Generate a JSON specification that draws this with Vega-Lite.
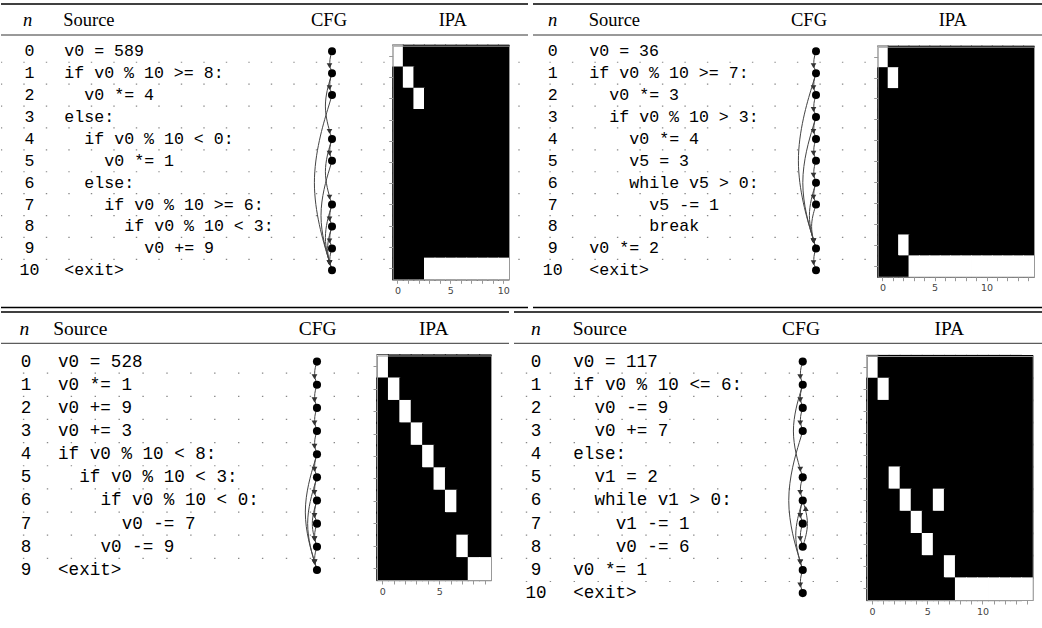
{
"$schema":"https://vega.github.io/schema/vega-lite/v6.json",
"padding":0,
"background":"white",
"spacing":0,
"config":{"view":{"stroke":null}},
"datasets":{
"LA":[{"n":0,"ind":0,"code":"v0 = 589","node":true},{"n":1,"ind":0,"code":"if v0 % 10 >= 8:","node":true},{"n":2,"ind":1,"code":"v0 *= 4","node":true},{"n":3,"ind":0,"code":"else:","node":false},{"n":4,"ind":1,"code":"if v0 % 10 < 0:","node":true},{"n":5,"ind":2,"code":"v0 *= 1","node":true},{"n":6,"ind":1,"code":"else:","node":false},{"n":7,"ind":2,"code":"if v0 % 10 >= 6:","node":true},{"n":8,"ind":3,"code":"if v0 % 10 < 3:","node":true},{"n":9,"ind":4,"code":"v0 += 9","node":true},{"n":10,"ind":0,"code":"<exit>","node":true}],
"LB":[{"n":0,"ind":0,"code":"v0 = 36","node":true},{"n":1,"ind":0,"code":"if v0 % 10 >= 7:","node":true},{"n":2,"ind":1,"code":"v0 *= 3","node":true},{"n":3,"ind":1,"code":"if v0 % 10 > 3:","node":true},{"n":4,"ind":2,"code":"v0 *= 4","node":true},{"n":5,"ind":2,"code":"v5 = 3","node":true},{"n":6,"ind":2,"code":"while v5 > 0:","node":true},{"n":7,"ind":3,"code":"v5 -= 1","node":true},{"n":8,"ind":3,"code":"break","node":false},{"n":9,"ind":0,"code":"v0 *= 2","node":true},{"n":10,"ind":0,"code":"<exit>","node":true}],
"LC":[{"n":0,"ind":0,"code":"v0 = 528","node":true},{"n":1,"ind":0,"code":"v0 *= 1","node":true},{"n":2,"ind":0,"code":"v0 += 9","node":true},{"n":3,"ind":0,"code":"v0 += 3","node":true},{"n":4,"ind":0,"code":"if v0 % 10 < 8:","node":true},{"n":5,"ind":1,"code":"if v0 % 10 < 3:","node":true},{"n":6,"ind":2,"code":"if v0 % 10 < 0:","node":true},{"n":7,"ind":3,"code":"v0 -= 7","node":true},{"n":8,"ind":2,"code":"v0 -= 9","node":true},{"n":9,"ind":0,"code":"<exit>","node":true}],
"LD":[{"n":0,"ind":0,"code":"v0 = 117","node":true},{"n":1,"ind":0,"code":"if v0 % 10 <= 6:","node":true},{"n":2,"ind":1,"code":"v0 -= 9","node":true},{"n":3,"ind":1,"code":"v0 += 7","node":true},{"n":4,"ind":0,"code":"else:","node":false},{"n":5,"ind":1,"code":"v1 = 2","node":true},{"n":6,"ind":1,"code":"while v1 > 0:","node":true},{"n":7,"ind":2,"code":"v1 -= 1","node":true},{"n":8,"ind":2,"code":"v0 -= 6","node":true},{"n":9,"ind":0,"code":"v0 *= 1","node":true},{"n":10,"ind":0,"code":"<exit>","node":true}],
"EA":[{"s":0,"t":1},{"s":1,"t":2},{"s":1,"t":4},{"s":2,"t":10},{"s":4,"t":5},{"s":4,"t":7},{"s":5,"t":10},{"s":7,"t":8},{"s":7,"t":10},{"s":8,"t":9},{"s":8,"t":10},{"s":9,"t":10}],
"EB":[{"s":0,"t":1},{"s":1,"t":2},{"s":1,"t":9},{"s":2,"t":3},{"s":3,"t":4},{"s":3,"t":9},{"s":4,"t":5},{"s":5,"t":6},{"s":6,"t":7},{"s":6,"t":9},{"s":7,"t":9},{"s":9,"t":10}],
"EC":[{"s":0,"t":1},{"s":1,"t":2},{"s":2,"t":3},{"s":3,"t":4},{"s":4,"t":5},{"s":4,"t":9},{"s":5,"t":6},{"s":5,"t":9},{"s":6,"t":7},{"s":6,"t":8},{"s":7,"t":8},{"s":8,"t":9}],
"ED":[{"s":0,"t":1},{"s":1,"t":2},{"s":1,"t":5},{"s":2,"t":3},{"s":3,"t":9},{"s":5,"t":6},{"s":6,"t":7},{"s":6,"t":9},{"s":7,"t":8},{"s":8,"t":6},{"s":9,"t":10}],
"HA":[
{"r":0,"c":0,"v":1},{"r":0,"c":1,"v":0},{"r":0,"c":2,"v":0},{"r":0,"c":3,"v":0},{"r":0,"c":4,"v":0},{"r":0,"c":5,"v":0},{"r":0,"c":6,"v":0},{"r":0,"c":7,"v":0},{"r":0,"c":8,"v":0},{"r":0,"c":9,"v":0},{"r":0,"c":10,"v":0},
{"r":1,"c":0,"v":0},{"r":1,"c":1,"v":1},{"r":1,"c":2,"v":0},{"r":1,"c":3,"v":0},{"r":1,"c":4,"v":0},{"r":1,"c":5,"v":0},{"r":1,"c":6,"v":0},{"r":1,"c":7,"v":0},{"r":1,"c":8,"v":0},{"r":1,"c":9,"v":0},{"r":1,"c":10,"v":0},
{"r":2,"c":0,"v":0},{"r":2,"c":1,"v":0},{"r":2,"c":2,"v":1},{"r":2,"c":3,"v":0},{"r":2,"c":4,"v":0},{"r":2,"c":5,"v":0},{"r":2,"c":6,"v":0},{"r":2,"c":7,"v":0},{"r":2,"c":8,"v":0},{"r":2,"c":9,"v":0},{"r":2,"c":10,"v":0},
{"r":3,"c":0,"v":0},{"r":3,"c":1,"v":0},{"r":3,"c":2,"v":0},{"r":3,"c":3,"v":0},{"r":3,"c":4,"v":0},{"r":3,"c":5,"v":0},{"r":3,"c":6,"v":0},{"r":3,"c":7,"v":0},{"r":3,"c":8,"v":0},{"r":3,"c":9,"v":0},{"r":3,"c":10,"v":0},
{"r":4,"c":0,"v":0},{"r":4,"c":1,"v":0},{"r":4,"c":2,"v":0},{"r":4,"c":3,"v":0},{"r":4,"c":4,"v":0},{"r":4,"c":5,"v":0},{"r":4,"c":6,"v":0},{"r":4,"c":7,"v":0},{"r":4,"c":8,"v":0},{"r":4,"c":9,"v":0},{"r":4,"c":10,"v":0},
{"r":5,"c":0,"v":0},{"r":5,"c":1,"v":0},{"r":5,"c":2,"v":0},{"r":5,"c":3,"v":0},{"r":5,"c":4,"v":0},{"r":5,"c":5,"v":0},{"r":5,"c":6,"v":0},{"r":5,"c":7,"v":0},{"r":5,"c":8,"v":0},{"r":5,"c":9,"v":0},{"r":5,"c":10,"v":0},
{"r":6,"c":0,"v":0},{"r":6,"c":1,"v":0},{"r":6,"c":2,"v":0},{"r":6,"c":3,"v":0},{"r":6,"c":4,"v":0},{"r":6,"c":5,"v":0},{"r":6,"c":6,"v":0},{"r":6,"c":7,"v":0},{"r":6,"c":8,"v":0},{"r":6,"c":9,"v":0},{"r":6,"c":10,"v":0},
{"r":7,"c":0,"v":0},{"r":7,"c":1,"v":0},{"r":7,"c":2,"v":0},{"r":7,"c":3,"v":0},{"r":7,"c":4,"v":0},{"r":7,"c":5,"v":0},{"r":7,"c":6,"v":0},{"r":7,"c":7,"v":0},{"r":7,"c":8,"v":0},{"r":7,"c":9,"v":0},{"r":7,"c":10,"v":0},
{"r":8,"c":0,"v":0},{"r":8,"c":1,"v":0},{"r":8,"c":2,"v":0},{"r":8,"c":3,"v":0},{"r":8,"c":4,"v":0},{"r":8,"c":5,"v":0},{"r":8,"c":6,"v":0},{"r":8,"c":7,"v":0},{"r":8,"c":8,"v":0},{"r":8,"c":9,"v":0},{"r":8,"c":10,"v":0},
{"r":9,"c":0,"v":0},{"r":9,"c":1,"v":0},{"r":9,"c":2,"v":0},{"r":9,"c":3,"v":0},{"r":9,"c":4,"v":0},{"r":9,"c":5,"v":0},{"r":9,"c":6,"v":0},{"r":9,"c":7,"v":0},{"r":9,"c":8,"v":0},{"r":9,"c":9,"v":0},{"r":9,"c":10,"v":0},
{"r":10,"c":0,"v":0},{"r":10,"c":1,"v":0},{"r":10,"c":2,"v":0},{"r":10,"c":3,"v":1},{"r":10,"c":4,"v":1},{"r":10,"c":5,"v":1},{"r":10,"c":6,"v":1},{"r":10,"c":7,"v":1},{"r":10,"c":8,"v":1},{"r":10,"c":9,"v":1},{"r":10,"c":10,"v":1}],
"HB":[
{"r":0,"c":0,"v":1},{"r":0,"c":1,"v":0},{"r":0,"c":2,"v":0},{"r":0,"c":3,"v":0},{"r":0,"c":4,"v":0},{"r":0,"c":5,"v":0},{"r":0,"c":6,"v":0},{"r":0,"c":7,"v":0},{"r":0,"c":8,"v":0},{"r":0,"c":9,"v":0},{"r":0,"c":10,"v":0},{"r":0,"c":11,"v":0},{"r":0,"c":12,"v":0},{"r":0,"c":13,"v":0},{"r":0,"c":14,"v":0},
{"r":1,"c":0,"v":0},{"r":1,"c":1,"v":1},{"r":1,"c":2,"v":0},{"r":1,"c":3,"v":0},{"r":1,"c":4,"v":0},{"r":1,"c":5,"v":0},{"r":1,"c":6,"v":0},{"r":1,"c":7,"v":0},{"r":1,"c":8,"v":0},{"r":1,"c":9,"v":0},{"r":1,"c":10,"v":0},{"r":1,"c":11,"v":0},{"r":1,"c":12,"v":0},{"r":1,"c":13,"v":0},{"r":1,"c":14,"v":0},
{"r":2,"c":0,"v":0},{"r":2,"c":1,"v":0},{"r":2,"c":2,"v":0},{"r":2,"c":3,"v":0},{"r":2,"c":4,"v":0},{"r":2,"c":5,"v":0},{"r":2,"c":6,"v":0},{"r":2,"c":7,"v":0},{"r":2,"c":8,"v":0},{"r":2,"c":9,"v":0},{"r":2,"c":10,"v":0},{"r":2,"c":11,"v":0},{"r":2,"c":12,"v":0},{"r":2,"c":13,"v":0},{"r":2,"c":14,"v":0},
{"r":3,"c":0,"v":0},{"r":3,"c":1,"v":0},{"r":3,"c":2,"v":0},{"r":3,"c":3,"v":0},{"r":3,"c":4,"v":0},{"r":3,"c":5,"v":0},{"r":3,"c":6,"v":0},{"r":3,"c":7,"v":0},{"r":3,"c":8,"v":0},{"r":3,"c":9,"v":0},{"r":3,"c":10,"v":0},{"r":3,"c":11,"v":0},{"r":3,"c":12,"v":0},{"r":3,"c":13,"v":0},{"r":3,"c":14,"v":0},
{"r":4,"c":0,"v":0},{"r":4,"c":1,"v":0},{"r":4,"c":2,"v":0},{"r":4,"c":3,"v":0},{"r":4,"c":4,"v":0},{"r":4,"c":5,"v":0},{"r":4,"c":6,"v":0},{"r":4,"c":7,"v":0},{"r":4,"c":8,"v":0},{"r":4,"c":9,"v":0},{"r":4,"c":10,"v":0},{"r":4,"c":11,"v":0},{"r":4,"c":12,"v":0},{"r":4,"c":13,"v":0},{"r":4,"c":14,"v":0},
{"r":5,"c":0,"v":0},{"r":5,"c":1,"v":0},{"r":5,"c":2,"v":0},{"r":5,"c":3,"v":0},{"r":5,"c":4,"v":0},{"r":5,"c":5,"v":0},{"r":5,"c":6,"v":0},{"r":5,"c":7,"v":0},{"r":5,"c":8,"v":0},{"r":5,"c":9,"v":0},{"r":5,"c":10,"v":0},{"r":5,"c":11,"v":0},{"r":5,"c":12,"v":0},{"r":5,"c":13,"v":0},{"r":5,"c":14,"v":0},
{"r":6,"c":0,"v":0},{"r":6,"c":1,"v":0},{"r":6,"c":2,"v":0},{"r":6,"c":3,"v":0},{"r":6,"c":4,"v":0},{"r":6,"c":5,"v":0},{"r":6,"c":6,"v":0},{"r":6,"c":7,"v":0},{"r":6,"c":8,"v":0},{"r":6,"c":9,"v":0},{"r":6,"c":10,"v":0},{"r":6,"c":11,"v":0},{"r":6,"c":12,"v":0},{"r":6,"c":13,"v":0},{"r":6,"c":14,"v":0},
{"r":7,"c":0,"v":0},{"r":7,"c":1,"v":0},{"r":7,"c":2,"v":0},{"r":7,"c":3,"v":0},{"r":7,"c":4,"v":0},{"r":7,"c":5,"v":0},{"r":7,"c":6,"v":0},{"r":7,"c":7,"v":0},{"r":7,"c":8,"v":0},{"r":7,"c":9,"v":0},{"r":7,"c":10,"v":0},{"r":7,"c":11,"v":0},{"r":7,"c":12,"v":0},{"r":7,"c":13,"v":0},{"r":7,"c":14,"v":0},
{"r":8,"c":0,"v":0},{"r":8,"c":1,"v":0},{"r":8,"c":2,"v":0},{"r":8,"c":3,"v":0},{"r":8,"c":4,"v":0},{"r":8,"c":5,"v":0},{"r":8,"c":6,"v":0},{"r":8,"c":7,"v":0},{"r":8,"c":8,"v":0},{"r":8,"c":9,"v":0},{"r":8,"c":10,"v":0},{"r":8,"c":11,"v":0},{"r":8,"c":12,"v":0},{"r":8,"c":13,"v":0},{"r":8,"c":14,"v":0},
{"r":9,"c":0,"v":0},{"r":9,"c":1,"v":0},{"r":9,"c":2,"v":1},{"r":9,"c":3,"v":0},{"r":9,"c":4,"v":0},{"r":9,"c":5,"v":0},{"r":9,"c":6,"v":0},{"r":9,"c":7,"v":0},{"r":9,"c":8,"v":0},{"r":9,"c":9,"v":0},{"r":9,"c":10,"v":0},{"r":9,"c":11,"v":0},{"r":9,"c":12,"v":0},{"r":9,"c":13,"v":0},{"r":9,"c":14,"v":0},
{"r":10,"c":0,"v":0},{"r":10,"c":1,"v":0},{"r":10,"c":2,"v":0},{"r":10,"c":3,"v":1},{"r":10,"c":4,"v":1},{"r":10,"c":5,"v":1},{"r":10,"c":6,"v":1},{"r":10,"c":7,"v":1},{"r":10,"c":8,"v":1},{"r":10,"c":9,"v":1},{"r":10,"c":10,"v":1},{"r":10,"c":11,"v":1},{"r":10,"c":12,"v":1},{"r":10,"c":13,"v":1},{"r":10,"c":14,"v":1}],
"HC":[
{"r":0,"c":0,"v":1},{"r":0,"c":1,"v":0},{"r":0,"c":2,"v":0},{"r":0,"c":3,"v":0},{"r":0,"c":4,"v":0},{"r":0,"c":5,"v":0},{"r":0,"c":6,"v":0},{"r":0,"c":7,"v":0},{"r":0,"c":8,"v":0},{"r":0,"c":9,"v":0},
{"r":1,"c":0,"v":0},{"r":1,"c":1,"v":1},{"r":1,"c":2,"v":0},{"r":1,"c":3,"v":0},{"r":1,"c":4,"v":0},{"r":1,"c":5,"v":0},{"r":1,"c":6,"v":0},{"r":1,"c":7,"v":0},{"r":1,"c":8,"v":0},{"r":1,"c":9,"v":0},
{"r":2,"c":0,"v":0},{"r":2,"c":1,"v":0},{"r":2,"c":2,"v":1},{"r":2,"c":3,"v":0},{"r":2,"c":4,"v":0},{"r":2,"c":5,"v":0},{"r":2,"c":6,"v":0},{"r":2,"c":7,"v":0},{"r":2,"c":8,"v":0},{"r":2,"c":9,"v":0},
{"r":3,"c":0,"v":0},{"r":3,"c":1,"v":0},{"r":3,"c":2,"v":0},{"r":3,"c":3,"v":1},{"r":3,"c":4,"v":0},{"r":3,"c":5,"v":0},{"r":3,"c":6,"v":0},{"r":3,"c":7,"v":0},{"r":3,"c":8,"v":0},{"r":3,"c":9,"v":0},
{"r":4,"c":0,"v":0},{"r":4,"c":1,"v":0},{"r":4,"c":2,"v":0},{"r":4,"c":3,"v":0},{"r":4,"c":4,"v":1},{"r":4,"c":5,"v":0},{"r":4,"c":6,"v":0},{"r":4,"c":7,"v":0},{"r":4,"c":8,"v":0},{"r":4,"c":9,"v":0},
{"r":5,"c":0,"v":0},{"r":5,"c":1,"v":0},{"r":5,"c":2,"v":0},{"r":5,"c":3,"v":0},{"r":5,"c":4,"v":0},{"r":5,"c":5,"v":1},{"r":5,"c":6,"v":0},{"r":5,"c":7,"v":0},{"r":5,"c":8,"v":0},{"r":5,"c":9,"v":0},
{"r":6,"c":0,"v":0},{"r":6,"c":1,"v":0},{"r":6,"c":2,"v":0},{"r":6,"c":3,"v":0},{"r":6,"c":4,"v":0},{"r":6,"c":5,"v":0},{"r":6,"c":6,"v":1},{"r":6,"c":7,"v":0},{"r":6,"c":8,"v":0},{"r":6,"c":9,"v":0},
{"r":7,"c":0,"v":0},{"r":7,"c":1,"v":0},{"r":7,"c":2,"v":0},{"r":7,"c":3,"v":0},{"r":7,"c":4,"v":0},{"r":7,"c":5,"v":0},{"r":7,"c":6,"v":0},{"r":7,"c":7,"v":0},{"r":7,"c":8,"v":0},{"r":7,"c":9,"v":0},
{"r":8,"c":0,"v":0},{"r":8,"c":1,"v":0},{"r":8,"c":2,"v":0},{"r":8,"c":3,"v":0},{"r":8,"c":4,"v":0},{"r":8,"c":5,"v":0},{"r":8,"c":6,"v":0},{"r":8,"c":7,"v":1},{"r":8,"c":8,"v":0},{"r":8,"c":9,"v":0},
{"r":9,"c":0,"v":0},{"r":9,"c":1,"v":0},{"r":9,"c":2,"v":0},{"r":9,"c":3,"v":0},{"r":9,"c":4,"v":0},{"r":9,"c":5,"v":0},{"r":9,"c":6,"v":0},{"r":9,"c":7,"v":0},{"r":9,"c":8,"v":1},{"r":9,"c":9,"v":1}],
"HD":[
{"r":0,"c":0,"v":1},{"r":0,"c":1,"v":0},{"r":0,"c":2,"v":0},{"r":0,"c":3,"v":0},{"r":0,"c":4,"v":0},{"r":0,"c":5,"v":0},{"r":0,"c":6,"v":0},{"r":0,"c":7,"v":0},{"r":0,"c":8,"v":0},{"r":0,"c":9,"v":0},{"r":0,"c":10,"v":0},{"r":0,"c":11,"v":0},{"r":0,"c":12,"v":0},{"r":0,"c":13,"v":0},{"r":0,"c":14,"v":0},
{"r":1,"c":0,"v":0},{"r":1,"c":1,"v":1},{"r":1,"c":2,"v":0},{"r":1,"c":3,"v":0},{"r":1,"c":4,"v":0},{"r":1,"c":5,"v":0},{"r":1,"c":6,"v":0},{"r":1,"c":7,"v":0},{"r":1,"c":8,"v":0},{"r":1,"c":9,"v":0},{"r":1,"c":10,"v":0},{"r":1,"c":11,"v":0},{"r":1,"c":12,"v":0},{"r":1,"c":13,"v":0},{"r":1,"c":14,"v":0},
{"r":2,"c":0,"v":0},{"r":2,"c":1,"v":0},{"r":2,"c":2,"v":0},{"r":2,"c":3,"v":0},{"r":2,"c":4,"v":0},{"r":2,"c":5,"v":0},{"r":2,"c":6,"v":0},{"r":2,"c":7,"v":0},{"r":2,"c":8,"v":0},{"r":2,"c":9,"v":0},{"r":2,"c":10,"v":0},{"r":2,"c":11,"v":0},{"r":2,"c":12,"v":0},{"r":2,"c":13,"v":0},{"r":2,"c":14,"v":0},
{"r":3,"c":0,"v":0},{"r":3,"c":1,"v":0},{"r":3,"c":2,"v":0},{"r":3,"c":3,"v":0},{"r":3,"c":4,"v":0},{"r":3,"c":5,"v":0},{"r":3,"c":6,"v":0},{"r":3,"c":7,"v":0},{"r":3,"c":8,"v":0},{"r":3,"c":9,"v":0},{"r":3,"c":10,"v":0},{"r":3,"c":11,"v":0},{"r":3,"c":12,"v":0},{"r":3,"c":13,"v":0},{"r":3,"c":14,"v":0},
{"r":4,"c":0,"v":0},{"r":4,"c":1,"v":0},{"r":4,"c":2,"v":0},{"r":4,"c":3,"v":0},{"r":4,"c":4,"v":0},{"r":4,"c":5,"v":0},{"r":4,"c":6,"v":0},{"r":4,"c":7,"v":0},{"r":4,"c":8,"v":0},{"r":4,"c":9,"v":0},{"r":4,"c":10,"v":0},{"r":4,"c":11,"v":0},{"r":4,"c":12,"v":0},{"r":4,"c":13,"v":0},{"r":4,"c":14,"v":0},
{"r":5,"c":0,"v":0},{"r":5,"c":1,"v":0},{"r":5,"c":2,"v":1},{"r":5,"c":3,"v":0},{"r":5,"c":4,"v":0},{"r":5,"c":5,"v":0},{"r":5,"c":6,"v":0},{"r":5,"c":7,"v":0},{"r":5,"c":8,"v":0},{"r":5,"c":9,"v":0},{"r":5,"c":10,"v":0},{"r":5,"c":11,"v":0},{"r":5,"c":12,"v":0},{"r":5,"c":13,"v":0},{"r":5,"c":14,"v":0},
{"r":6,"c":0,"v":0},{"r":6,"c":1,"v":0},{"r":6,"c":2,"v":0},{"r":6,"c":3,"v":1},{"r":6,"c":4,"v":0},{"r":6,"c":5,"v":0},{"r":6,"c":6,"v":1},{"r":6,"c":7,"v":0},{"r":6,"c":8,"v":0},{"r":6,"c":9,"v":0},{"r":6,"c":10,"v":0},{"r":6,"c":11,"v":0},{"r":6,"c":12,"v":0},{"r":6,"c":13,"v":0},{"r":6,"c":14,"v":0},
{"r":7,"c":0,"v":0},{"r":7,"c":1,"v":0},{"r":7,"c":2,"v":0},{"r":7,"c":3,"v":0},{"r":7,"c":4,"v":1},{"r":7,"c":5,"v":0},{"r":7,"c":6,"v":0},{"r":7,"c":7,"v":0},{"r":7,"c":8,"v":0},{"r":7,"c":9,"v":0},{"r":7,"c":10,"v":0},{"r":7,"c":11,"v":0},{"r":7,"c":12,"v":0},{"r":7,"c":13,"v":0},{"r":7,"c":14,"v":0},
{"r":8,"c":0,"v":0},{"r":8,"c":1,"v":0},{"r":8,"c":2,"v":0},{"r":8,"c":3,"v":0},{"r":8,"c":4,"v":0},{"r":8,"c":5,"v":1},{"r":8,"c":6,"v":0},{"r":8,"c":7,"v":0},{"r":8,"c":8,"v":0},{"r":8,"c":9,"v":0},{"r":8,"c":10,"v":0},{"r":8,"c":11,"v":0},{"r":8,"c":12,"v":0},{"r":8,"c":13,"v":0},{"r":8,"c":14,"v":0},
{"r":9,"c":0,"v":0},{"r":9,"c":1,"v":0},{"r":9,"c":2,"v":0},{"r":9,"c":3,"v":0},{"r":9,"c":4,"v":0},{"r":9,"c":5,"v":0},{"r":9,"c":6,"v":0},{"r":9,"c":7,"v":1},{"r":9,"c":8,"v":0},{"r":9,"c":9,"v":0},{"r":9,"c":10,"v":0},{"r":9,"c":11,"v":0},{"r":9,"c":12,"v":0},{"r":9,"c":13,"v":0},{"r":9,"c":14,"v":0},
{"r":10,"c":0,"v":0},{"r":10,"c":1,"v":0},{"r":10,"c":2,"v":0},{"r":10,"c":3,"v":0},{"r":10,"c":4,"v":0},{"r":10,"c":5,"v":0},{"r":10,"c":6,"v":0},{"r":10,"c":7,"v":0},{"r":10,"c":8,"v":1},{"r":10,"c":9,"v":1},{"r":10,"c":10,"v":1},{"r":10,"c":11,"v":1},{"r":10,"c":12,"v":1},{"r":10,"c":13,"v":1},{"r":10,"c":14,"v":1}]
},
"vconcat":[
{"hconcat":[
{"width":527,"height":310,
 "resolve":{"scale":{"x":"independent","y":"independent","xOffset":"independent"}},
 "layer":[
  {"layer":[
   {"data":{"name":"LA"},"transform":[{"filter":"datum.n < 10"}],"mark":{"type":"rule","color":"#888","strokeWidth":1.2,"strokeDash":[1.4,21.1],"strokeDashOffset":14.2,"yOffset":10.95},"encoding":{"y":{"field":"n","type":"quantitative","scale":{"domain":[-2.3425,11.8128],"reverse":true,"nice":false,"zero":false},"axis":null}}},
   {"data":{"values":[{}]},"mark":{"type":"rule","color":"#000","strokeWidth":1.3},"encoding":{"y":{"datum":-2.16,"type":"quantitative","scale":{"domain":[-2.3425,11.8128],"reverse":true,"nice":false,"zero":false},"axis":null}}},
   {"data":{"values":[{}]},"mark":{"type":"rule","color":"#000","strokeWidth":0.8},"encoding":{"y":{"datum":-0.744,"type":"quantitative","scale":{"domain":[-2.3425,11.8128],"reverse":true,"nice":false,"zero":false},"axis":null}}},
   {"data":{"values":[{}]},"mark":{"type":"rule","color":"#000","strokeWidth":1.3},"encoding":{"y":{"datum":11.699,"type":"quantitative","scale":{"domain":[-2.3425,11.8128],"reverse":true,"nice":false,"zero":false},"axis":null}}},
   {"data":{"values":[{"h":"n"}]},"mark":{"type":"text","font":"Liberation Serif","fontStyle":"italic","fontSize":18.5,"align":"center","baseline":"alphabetic"},"encoding":{"text":{"field":"h"},"x":{"datum":2.67,"type":"quantitative","scale":{"domain":[0,52.7],"nice":false,"zero":false},"axis":null},"y":{"datum":-1.17,"type":"quantitative","scale":{"domain":[-2.3425,11.8128],"reverse":true,"nice":false,"zero":false},"axis":null}}},
   {"data":{"values":[{"h":"Source"}]},"mark":{"type":"text","font":"Liberation Serif","fontSize":18.5,"align":"left","baseline":"alphabetic"},"encoding":{"text":{"field":"h"},"x":{"datum":6.22,"type":"quantitative","scale":{"domain":[0,52.7],"nice":false,"zero":false},"axis":null},"y":{"datum":-1.17,"type":"quantitative","scale":{"domain":[-2.3425,11.8128],"reverse":true,"nice":false,"zero":false},"axis":null}}},
   {"data":{"values":[{"h":"CFG"}]},"mark":{"type":"text","font":"Liberation Serif","fontSize":18.5,"align":"center","baseline":"alphabetic"},"encoding":{"text":{"field":"h"},"x":{"datum":32.8,"type":"quantitative","scale":{"domain":[0,52.7],"nice":false,"zero":false},"axis":null},"y":{"datum":-1.17,"type":"quantitative","scale":{"domain":[-2.3425,11.8128],"reverse":true,"nice":false,"zero":false},"axis":null}}},
   {"data":{"values":[{"h":"IPA"}]},"mark":{"type":"text","font":"Liberation Serif","fontSize":18.5,"align":"center","baseline":"alphabetic"},"encoding":{"text":{"field":"h"},"x":{"datum":45.17,"type":"quantitative","scale":{"domain":[0,52.7],"nice":false,"zero":false},"axis":null},"y":{"datum":-1.17,"type":"quantitative","scale":{"domain":[-2.3425,11.8128],"reverse":true,"nice":false,"zero":false},"axis":null}}},
   {"data":{"name":"LA"},"mark":{"type":"text","font":"Liberation Mono","fontSize":16.6,"align":"center","baseline":"middle"},"encoding":{"text":{"field":"n","type":"nominal"},"x":{"datum":2.85,"type":"quantitative","scale":{"domain":[0,52.7],"nice":false,"zero":false},"axis":null},"y":{"field":"n","type":"quantitative","scale":{"domain":[-2.3425,11.8128],"reverse":true,"nice":false,"zero":false},"axis":null}}},
   {"data":{"name":"LA"},"mark":{"type":"text","font":"Liberation Mono","fontSize":16.6,"align":"left","baseline":"middle"},"encoding":{"text":{"field":"code","type":"nominal"},"x":{"datum":6.33,"type":"quantitative","scale":{"domain":[0,52.7],"nice":false,"zero":false},"axis":null},"xOffset":{"field":"ind","type":"quantitative","scale":{"domain":[0,1],"range":[0,20],"zero":false,"nice":false}},"y":{"field":"n","type":"quantitative","scale":{"domain":[-2.3425,11.8128],"reverse":true,"nice":false,"zero":false},"axis":null}}},
   {"data":{"name":"EA"},"transform":[{"calculate":"(datum.s + datum.t) / 2","as":"m"},{"fold":["s","m","t"],"as":["k","yy"]},{"calculate":"datum.k === 'm' ? 33.1 - 0.33 * (datum.t - datum.s) : 33.1","as":"xx"}],"mark":{"type":"line","interpolate":"basis","color":"#444","strokeWidth":1},"encoding":{"x":{"field":"xx","type":"quantitative","scale":{"domain":[0,52.7],"nice":false,"zero":false},"axis":null},"y":{"field":"yy","type":"quantitative","scale":{"domain":[-2.3425,11.8128],"reverse":true,"nice":false,"zero":false},"axis":null},"detail":[{"field":"s","type":"nominal"},{"field":"t","type":"nominal"}],"order":{"field":"yy","type":"quantitative"}}},
   {"data":{"name":"EA"},"transform":[{"filter":"datum.t > datum.s"}],"mark":{"type":"point","shape":"triangle-down","filled":true,"color":"#333","opacity":1,"size":32,"xOffset":-2.5,"yOffset":-7.5},"encoding":{"x":{"datum":33.1,"type":"quantitative","scale":{"domain":[0,52.7],"nice":false,"zero":false},"axis":null},"y":{"field":"t","type":"quantitative","scale":{"domain":[-2.3425,11.8128],"reverse":true,"nice":false,"zero":false},"axis":null}}},
   {"data":{"name":"LA"},"transform":[{"filter":"datum.node"}],"mark":{"type":"point","shape":"circle","filled":true,"color":"#000","opacity":1,"size":64},"encoding":{"x":{"datum":33.1,"type":"quantitative","scale":{"domain":[0,52.7],"nice":false,"zero":false},"axis":null},"y":{"field":"n","type":"quantitative","scale":{"domain":[-2.3425,11.8128],"reverse":true,"nice":false,"zero":false},"axis":null}}}
  ]},
  {"resolve":{"axis":{"x":"independent","y":"independent"}},
   "layer":[
   {"data":{"name":"HA"},"mark":{"type":"rect","color":"#000","width":{"band":1.1},"height":{"band":1.1}},"encoding":{
     "x":{"field":"c","type":"ordinal","scale":{"type":"band","range":[391.7,508],"paddingInner":0,"paddingOuter":0},"axis":{"orient":"top","offset":-45.7,"title":null,"grid":false,"zindex":1,"domainColor":"#999","ticks":false,"labels":false}},
     "y":{"field":"r","type":"ordinal","scale":{"type":"band","range":[45.7,279.3],"paddingInner":0,"paddingOuter":0},"axis":{"orient":"right","offset":-19,"title":null,"grid":false,"zindex":1,"domainColor":"#999","ticks":false,"labels":false}}}},
   {"data":{"name":"HA"},"mark":{"type":"rect","width":{"band":1.08},"height":{"band":1.04}},"encoding":{
     "x":{"field":"c","type":"ordinal","scale":{"type":"band","range":[391.7,508],"paddingInner":0,"paddingOuter":0},"axis":{"orient":"bottom","offset":-30.7,"title":null,"grid":false,"zindex":1,"domainColor":"#999","tickColor":"#999","tickSize":4,"labelExpr":"datum.value % 5 === 0 ? datum.label : ''","labelFont":"DejaVu Sans","labelFontSize":9.5,"labelColor":"#444","labelPadding":2,"labelAngle":0,"labelOverlap":false}},
     "y":{"field":"r","type":"ordinal","scale":{"type":"band","range":[45.7,279.3],"paddingInner":0,"paddingOuter":0},"axis":{"orient":"left","offset":-391.7,"title":null,"grid":false,"zindex":1,"domainColor":"#999","tickColor":"#999","tickSize":4,"labels":false}},
     "color":{"field":"v","type":"nominal","scale":{"domain":[0,1],"range":["#000000","#ffffff"]},"legend":null}}}
  ]}
 ]},
{"width":510,"height":310,
 "resolve":{"scale":{"x":"independent","y":"independent","xOffset":"independent"}},
 "layer":[
  {"layer":[
   {"data":{"name":"LB"},"transform":[{"filter":"datum.n < 10"}],"mark":{"type":"rule","color":"#888","strokeWidth":1.2,"strokeDash":[1.4,21.1],"strokeDashOffset":2.8,"yOffset":10.95},"encoding":{"y":{"field":"n","type":"quantitative","scale":{"domain":[-2.3425,11.8128],"reverse":true,"nice":false,"zero":false},"axis":null}}},
   {"data":{"values":[{}]},"mark":{"type":"rule","color":"#000","strokeWidth":1.3},"encoding":{"y":{"datum":-2.16,"type":"quantitative","scale":{"domain":[-2.3425,11.8128],"reverse":true,"nice":false,"zero":false},"axis":null}}},
   {"data":{"values":[{}]},"mark":{"type":"rule","color":"#000","strokeWidth":0.8},"encoding":{"y":{"datum":-0.744,"type":"quantitative","scale":{"domain":[-2.3425,11.8128],"reverse":true,"nice":false,"zero":false},"axis":null}}},
   {"data":{"values":[{}]},"mark":{"type":"rule","color":"#000","strokeWidth":1.3},"encoding":{"y":{"datum":11.699,"type":"quantitative","scale":{"domain":[-2.3425,11.8128],"reverse":true,"nice":false,"zero":false},"axis":null}}},
   {"data":{"values":[{"h":"n"}]},"mark":{"type":"text","font":"Liberation Serif","fontStyle":"italic","fontSize":18.5,"align":"center","baseline":"alphabetic"},"encoding":{"text":{"field":"h"},"x":{"datum":1.97,"type":"quantitative","scale":{"domain":[0,51],"nice":false,"zero":false},"axis":null},"y":{"datum":-1.17,"type":"quantitative","scale":{"domain":[-2.3425,11.8128],"reverse":true,"nice":false,"zero":false},"axis":null}}},
   {"data":{"values":[{"h":"Source"}]},"mark":{"type":"text","font":"Liberation Serif","fontSize":18.5,"align":"left","baseline":"alphabetic"},"encoding":{"text":{"field":"h"},"x":{"datum":5.57,"type":"quantitative","scale":{"domain":[0,51],"nice":false,"zero":false},"axis":null},"y":{"datum":-1.17,"type":"quantitative","scale":{"domain":[-2.3425,11.8128],"reverse":true,"nice":false,"zero":false},"axis":null}}},
   {"data":{"values":[{"h":"CFG"}]},"mark":{"type":"text","font":"Liberation Serif","fontSize":18.5,"align":"center","baseline":"alphabetic"},"encoding":{"text":{"field":"h"},"x":{"datum":27.6,"type":"quantitative","scale":{"domain":[0,51],"nice":false,"zero":false},"axis":null},"y":{"datum":-1.17,"type":"quantitative","scale":{"domain":[-2.3425,11.8128],"reverse":true,"nice":false,"zero":false},"axis":null}}},
   {"data":{"values":[{"h":"IPA"}]},"mark":{"type":"text","font":"Liberation Serif","fontSize":18.5,"align":"center","baseline":"alphabetic"},"encoding":{"text":{"field":"h"},"x":{"datum":41.97,"type":"quantitative","scale":{"domain":[0,51],"nice":false,"zero":false},"axis":null},"y":{"datum":-1.17,"type":"quantitative","scale":{"domain":[-2.3425,11.8128],"reverse":true,"nice":false,"zero":false},"axis":null}}},
   {"data":{"name":"LB"},"mark":{"type":"text","font":"Liberation Mono","fontSize":16.6,"align":"center","baseline":"middle"},"encoding":{"text":{"field":"n","type":"nominal"},"x":{"datum":1.97,"type":"quantitative","scale":{"domain":[0,51],"nice":false,"zero":false},"axis":null},"y":{"field":"n","type":"quantitative","scale":{"domain":[-2.3425,11.8128],"reverse":true,"nice":false,"zero":false},"axis":null}}},
   {"data":{"name":"LB"},"mark":{"type":"text","font":"Liberation Mono","fontSize":16.6,"align":"left","baseline":"middle"},"encoding":{"text":{"field":"code","type":"nominal"},"x":{"datum":5.63,"type":"quantitative","scale":{"domain":[0,51],"nice":false,"zero":false},"axis":null},"xOffset":{"field":"ind","type":"quantitative","scale":{"domain":[0,1],"range":[0,20],"zero":false,"nice":false}},"y":{"field":"n","type":"quantitative","scale":{"domain":[-2.3425,11.8128],"reverse":true,"nice":false,"zero":false},"axis":null}}},
   {"data":{"name":"EB"},"transform":[{"calculate":"(datum.s + datum.t) / 2","as":"m"},{"fold":["s","m","t"],"as":["k","yy"]},{"calculate":"datum.k === 'm' ? 28.3 - 0.33 * (datum.t - datum.s) : 28.3","as":"xx"}],"mark":{"type":"line","interpolate":"basis","color":"#444","strokeWidth":1},"encoding":{"x":{"field":"xx","type":"quantitative","scale":{"domain":[0,51],"nice":false,"zero":false},"axis":null},"y":{"field":"yy","type":"quantitative","scale":{"domain":[-2.3425,11.8128],"reverse":true,"nice":false,"zero":false},"axis":null},"detail":[{"field":"s","type":"nominal"},{"field":"t","type":"nominal"}],"order":{"field":"yy","type":"quantitative"}}},
   {"data":{"name":"EB"},"transform":[{"filter":"datum.t > datum.s"}],"mark":{"type":"point","shape":"triangle-down","filled":true,"color":"#333","opacity":1,"size":32,"xOffset":-2.5,"yOffset":-7.5},"encoding":{"x":{"datum":28.3,"type":"quantitative","scale":{"domain":[0,51],"nice":false,"zero":false},"axis":null},"y":{"field":"t","type":"quantitative","scale":{"domain":[-2.3425,11.8128],"reverse":true,"nice":false,"zero":false},"axis":null}}},
   {"data":{"name":"LB"},"transform":[{"filter":"datum.node"}],"mark":{"type":"point","shape":"circle","filled":true,"color":"#000","opacity":1,"size":64},"encoding":{"x":{"datum":28.3,"type":"quantitative","scale":{"domain":[0,51],"nice":false,"zero":false},"axis":null},"y":{"field":"n","type":"quantitative","scale":{"domain":[-2.3425,11.8128],"reverse":true,"nice":false,"zero":false},"axis":null}}}
  ]},
  {"resolve":{"axis":{"x":"independent","y":"independent"}},
   "layer":[
   {"data":{"name":"HB"},"mark":{"type":"rect","color":"#000","width":{"band":1.1},"height":{"band":1.1}},"encoding":{
     "x":{"field":"c","type":"ordinal","scale":{"type":"band","range":[344.7,501],"paddingInner":0,"paddingOuter":0},"axis":{"orient":"top","offset":-46.7,"title":null,"grid":false,"zindex":1,"domainColor":"#999","ticks":false,"labels":false}},
     "y":{"field":"r","type":"ordinal","scale":{"type":"band","range":[46.7,276.7],"paddingInner":0,"paddingOuter":0},"axis":{"orient":"right","offset":-9,"title":null,"grid":false,"zindex":1,"domainColor":"#999","ticks":false,"labels":false}}}},
   {"data":{"name":"HB"},"mark":{"type":"rect","width":{"band":1.08},"height":{"band":1.04}},"encoding":{
     "x":{"field":"c","type":"ordinal","scale":{"type":"band","range":[344.7,501],"paddingInner":0,"paddingOuter":0},"axis":{"orient":"bottom","offset":-33.3,"title":null,"grid":false,"zindex":1,"domainColor":"#999","tickColor":"#999","tickSize":4,"labelExpr":"datum.value % 5 === 0 ? datum.label : ''","labelFont":"DejaVu Sans","labelFontSize":9.5,"labelColor":"#444","labelPadding":2,"labelAngle":0,"labelOverlap":false}},
     "y":{"field":"r","type":"ordinal","scale":{"type":"band","range":[46.7,276.7],"paddingInner":0,"paddingOuter":0},"axis":{"orient":"left","offset":-344.7,"title":null,"grid":false,"zindex":1,"domainColor":"#999","tickColor":"#999","tickSize":4,"labels":false}},
     "color":{"field":"v","type":"nominal","scale":{"domain":[0,1],"range":["#000000","#ffffff"]},"legend":null}}}
  ]}
 ]}
],"spacing":5,"bounds":"flush"},
{"hconcat":[
{"width":508,"height":318,
 "resolve":{"scale":{"x":"independent","y":"independent","xOffset":"independent"}},
 "layer":[
  {"layer":[
   {"data":{"name":"LC"},"transform":[{"filter":"datum.n < 9"}],"mark":{"type":"rule","color":"#888","strokeWidth":1.2,"strokeDash":[1.4,22.5],"strokeDashOffset":17.2,"yOffset":11.575},"encoding":{"y":{"field":"n","type":"quantitative","scale":{"domain":[-2.2289,11.5076],"reverse":true,"nice":false,"zero":false},"axis":null}}},
   {"data":{"values":[{}]},"mark":{"type":"rule","color":"#000","strokeWidth":1.6},"encoding":{"y":{"datum":-2.1425,"type":"quantitative","scale":{"domain":[-2.2289,11.5076],"reverse":true,"nice":false,"zero":false},"axis":null}}},
   {"data":{"values":[{}]},"mark":{"type":"rule","color":"#000","strokeWidth":0.8},"encoding":{"y":{"datum":-0.7905,"type":"quantitative","scale":{"domain":[-2.2289,11.5076],"reverse":true,"nice":false,"zero":false},"axis":null}}},
   {"data":{"values":[{"h":"n"}]},"mark":{"type":"text","font":"Liberation Serif","fontStyle":"italic","fontSize":19.5,"align":"center","baseline":"alphabetic"},"encoding":{"text":{"field":"h"},"x":{"datum":2.2,"type":"quantitative","scale":{"domain":[0,47.925],"nice":false,"zero":false},"axis":null},"y":{"datum":-1.17,"type":"quantitative","scale":{"domain":[-2.2289,11.5076],"reverse":true,"nice":false,"zero":false},"axis":null}}},
   {"data":{"values":[{"h":"Source"}]},"mark":{"type":"text","font":"Liberation Serif","fontSize":19.5,"align":"left","baseline":"alphabetic"},"encoding":{"text":{"field":"h"},"x":{"datum":4.93,"type":"quantitative","scale":{"domain":[0,47.925],"nice":false,"zero":false},"axis":null},"y":{"datum":-1.17,"type":"quantitative","scale":{"domain":[-2.2289,11.5076],"reverse":true,"nice":false,"zero":false},"axis":null}}},
   {"data":{"values":[{"h":"CFG"}]},"mark":{"type":"text","font":"Liberation Serif","fontSize":19.5,"align":"center","baseline":"alphabetic"},"encoding":{"text":{"field":"h"},"x":{"datum":29.88,"type":"quantitative","scale":{"domain":[0,47.925],"nice":false,"zero":false},"axis":null},"y":{"datum":-1.17,"type":"quantitative","scale":{"domain":[-2.2289,11.5076],"reverse":true,"nice":false,"zero":false},"axis":null}}},
   {"data":{"values":[{"h":"IPA"}]},"mark":{"type":"text","font":"Liberation Serif","fontSize":19.5,"align":"center","baseline":"alphabetic"},"encoding":{"text":{"field":"h"},"x":{"datum":40.82,"type":"quantitative","scale":{"domain":[0,47.925],"nice":false,"zero":false},"axis":null},"y":{"datum":-1.17,"type":"quantitative","scale":{"domain":[-2.2289,11.5076],"reverse":true,"nice":false,"zero":false},"axis":null}}},
   {"data":{"name":"LC"},"mark":{"type":"text","font":"Liberation Mono","fontSize":17.6,"align":"center","baseline":"middle"},"encoding":{"text":{"field":"n","type":"nominal"},"x":{"datum":2.36,"type":"quantitative","scale":{"domain":[0,47.925],"nice":false,"zero":false},"axis":null},"y":{"field":"n","type":"quantitative","scale":{"domain":[-2.2289,11.5076],"reverse":true,"nice":false,"zero":false},"axis":null}}},
   {"data":{"name":"LC"},"mark":{"type":"text","font":"Liberation Mono","fontSize":17.6,"align":"left","baseline":"middle"},"encoding":{"text":{"field":"code","type":"nominal"},"x":{"datum":5.38,"type":"quantitative","scale":{"domain":[0,47.925],"nice":false,"zero":false},"axis":null},"xOffset":{"field":"ind","type":"quantitative","scale":{"domain":[0,1],"range":[0,21.2],"zero":false,"nice":false}},"y":{"field":"n","type":"quantitative","scale":{"domain":[-2.2289,11.5076],"reverse":true,"nice":false,"zero":false},"axis":null}}},
   {"data":{"name":"EC"},"transform":[{"calculate":"(datum.s + datum.t) / 2","as":"m"},{"fold":["s","m","t"],"as":["k","yy"]},{"calculate":"datum.k === 'm' ? 29.81 - 0.33 * (datum.t - datum.s) : 29.81","as":"xx"}],"mark":{"type":"line","interpolate":"basis","color":"#444","strokeWidth":1},"encoding":{"x":{"field":"xx","type":"quantitative","scale":{"domain":[0,47.925],"nice":false,"zero":false},"axis":null},"y":{"field":"yy","type":"quantitative","scale":{"domain":[-2.2289,11.5076],"reverse":true,"nice":false,"zero":false},"axis":null},"detail":[{"field":"s","type":"nominal"},{"field":"t","type":"nominal"}],"order":{"field":"yy","type":"quantitative"}}},
   {"data":{"name":"EC"},"transform":[{"filter":"datum.t > datum.s"}],"mark":{"type":"point","shape":"triangle-down","filled":true,"color":"#333","opacity":1,"size":34,"xOffset":-2.5,"yOffset":-8},"encoding":{"x":{"datum":29.81,"type":"quantitative","scale":{"domain":[0,47.925],"nice":false,"zero":false},"axis":null},"y":{"field":"t","type":"quantitative","scale":{"domain":[-2.2289,11.5076],"reverse":true,"nice":false,"zero":false},"axis":null}}},
   {"data":{"name":"LC"},"transform":[{"filter":"datum.node"}],"mark":{"type":"point","shape":"circle","filled":true,"color":"#000","opacity":1,"size":66},"encoding":{"x":{"datum":29.81,"type":"quantitative","scale":{"domain":[0,47.925],"nice":false,"zero":false},"axis":null},"y":{"field":"n","type":"quantitative","scale":{"domain":[-2.2289,11.5076],"reverse":true,"nice":false,"zero":false},"axis":null}}}
  ]},
  {"resolve":{"axis":{"x":"independent","y":"independent"}},
   "layer":[
   {"data":{"name":"HC"},"mark":{"type":"rect","color":"#000","width":{"band":1.1},"height":{"band":1.1}},"encoding":{
     "x":{"field":"c","type":"ordinal","scale":{"type":"band","range":[376,490],"paddingInner":0,"paddingOuter":0},"axis":{"orient":"top","offset":-45.5,"title":null,"grid":false,"zindex":1,"domainColor":"#999","ticks":false,"labels":false}},
     "y":{"field":"r","type":"ordinal","scale":{"type":"band","range":[45.5,270],"paddingInner":0,"paddingOuter":0},"axis":{"orient":"right","offset":-18,"title":null,"grid":false,"zindex":1,"domainColor":"#999","ticks":false,"labels":false}}}},
   {"data":{"name":"HC"},"mark":{"type":"rect","width":{"band":1.08},"height":{"band":1.04}},"encoding":{
     "x":{"field":"c","type":"ordinal","scale":{"type":"band","range":[376,490],"paddingInner":0,"paddingOuter":0},"axis":{"orient":"bottom","offset":-48,"title":null,"grid":false,"zindex":1,"domainColor":"#999","tickColor":"#999","tickSize":4,"labelExpr":"datum.value % 5 === 0 ? datum.label : ''","labelFont":"DejaVu Sans","labelFontSize":9.5,"labelColor":"#444","labelPadding":2,"labelAngle":0,"labelOverlap":false}},
     "y":{"field":"r","type":"ordinal","scale":{"type":"band","range":[45.5,270],"paddingInner":0,"paddingOuter":0},"axis":{"orient":"left","offset":-376,"title":null,"grid":false,"zindex":1,"domainColor":"#999","tickColor":"#999","tickSize":4,"labels":false}},
     "color":{"field":"v","type":"nominal","scale":{"domain":[0,1],"range":["#000000","#ffffff"]},"legend":null}}}
  ]}
 ]},
{"width":529,"height":318,
 "resolve":{"scale":{"x":"independent","y":"independent","xOffset":"independent"}},
 "layer":[
  {"layer":[
   {"data":{"name":"LD"},"transform":[{"filter":"datum.n < 10"}],"mark":{"type":"rule","color":"#888","strokeWidth":1.2,"strokeDash":[1.4,22.5],"strokeDashOffset":10,"yOffset":11.575},"encoding":{"y":{"field":"n","type":"quantitative","scale":{"domain":[-2.2289,11.5076],"reverse":true,"nice":false,"zero":false},"axis":null}}},
   {"data":{"values":[{}]},"mark":{"type":"rule","color":"#000","strokeWidth":1.6},"encoding":{"y":{"datum":-2.1425,"type":"quantitative","scale":{"domain":[-2.2289,11.5076],"reverse":true,"nice":false,"zero":false},"axis":null}}},
   {"data":{"values":[{}]},"mark":{"type":"rule","color":"#000","strokeWidth":0.8},"encoding":{"y":{"datum":-0.7905,"type":"quantitative","scale":{"domain":[-2.2289,11.5076],"reverse":true,"nice":false,"zero":false},"axis":null}}},
   {"data":{"values":[{"h":"n"}]},"mark":{"type":"text","font":"Liberation Serif","fontStyle":"italic","fontSize":19.5,"align":"center","baseline":"alphabetic"},"encoding":{"text":{"field":"h"},"x":{"datum":2.075,"type":"quantitative","scale":{"domain":[0,49.906],"nice":false,"zero":false},"axis":null},"y":{"datum":-1.17,"type":"quantitative","scale":{"domain":[-2.2289,11.5076],"reverse":true,"nice":false,"zero":false},"axis":null}}},
   {"data":{"values":[{"h":"Source"}]},"mark":{"type":"text","font":"Liberation Serif","fontSize":19.5,"align":"left","baseline":"alphabetic"},"encoding":{"text":{"field":"h"},"x":{"datum":5.54,"type":"quantitative","scale":{"domain":[0,49.906],"nice":false,"zero":false},"axis":null},"y":{"datum":-1.17,"type":"quantitative","scale":{"domain":[-2.2289,11.5076],"reverse":true,"nice":false,"zero":false},"axis":null}}},
   {"data":{"values":[{"h":"CFG"}]},"mark":{"type":"text","font":"Liberation Serif","fontSize":19.5,"align":"center","baseline":"alphabetic"},"encoding":{"text":{"field":"h"},"x":{"datum":27.08,"type":"quantitative","scale":{"domain":[0,49.906],"nice":false,"zero":false},"axis":null},"y":{"datum":-1.17,"type":"quantitative","scale":{"domain":[-2.2289,11.5076],"reverse":true,"nice":false,"zero":false},"axis":null}}},
   {"data":{"values":[{"h":"IPA"}]},"mark":{"type":"text","font":"Liberation Serif","fontSize":19.5,"align":"center","baseline":"alphabetic"},"encoding":{"text":{"field":"h"},"x":{"datum":41.07,"type":"quantitative","scale":{"domain":[0,49.906],"nice":false,"zero":false},"axis":null},"y":{"datum":-1.17,"type":"quantitative","scale":{"domain":[-2.2289,11.5076],"reverse":true,"nice":false,"zero":false},"axis":null}}},
   {"data":{"name":"LD"},"mark":{"type":"text","font":"Liberation Mono","fontSize":17.6,"align":"center","baseline":"middle"},"encoding":{"text":{"field":"n","type":"nominal"},"x":{"datum":2.075,"type":"quantitative","scale":{"domain":[0,49.906],"nice":false,"zero":false},"axis":null},"y":{"field":"n","type":"quantitative","scale":{"domain":[-2.2289,11.5076],"reverse":true,"nice":false,"zero":false},"axis":null}}},
   {"data":{"name":"LD"},"mark":{"type":"text","font":"Liberation Mono","fontSize":17.6,"align":"left","baseline":"middle"},"encoding":{"text":{"field":"code","type":"nominal"},"x":{"datum":5.59,"type":"quantitative","scale":{"domain":[0,49.906],"nice":false,"zero":false},"axis":null},"xOffset":{"field":"ind","type":"quantitative","scale":{"domain":[0,1],"range":[0,21.2],"zero":false,"nice":false}},"y":{"field":"n","type":"quantitative","scale":{"domain":[-2.2289,11.5076],"reverse":true,"nice":false,"zero":false},"axis":null}}},
   {"data":{"name":"ED"},"transform":[{"calculate":"(datum.s + datum.t) / 2","as":"m"},{"fold":["s","m","t"],"as":["k","yy"]},{"calculate":"datum.k === 'm' ? 27.24 - 0.33 * (datum.t - datum.s) : 27.24","as":"xx"}],"mark":{"type":"line","interpolate":"basis","color":"#444","strokeWidth":1},"encoding":{"x":{"field":"xx","type":"quantitative","scale":{"domain":[0,49.906],"nice":false,"zero":false},"axis":null},"y":{"field":"yy","type":"quantitative","scale":{"domain":[-2.2289,11.5076],"reverse":true,"nice":false,"zero":false},"axis":null},"detail":[{"field":"s","type":"nominal"},{"field":"t","type":"nominal"}],"order":{"field":"yy","type":"quantitative"}}},
   {"data":{"name":"ED"},"transform":[{"filter":"datum.t > datum.s"}],"mark":{"type":"point","shape":"triangle-down","filled":true,"color":"#333","opacity":1,"size":34,"xOffset":-2.5,"yOffset":-8},"encoding":{"x":{"datum":27.24,"type":"quantitative","scale":{"domain":[0,49.906],"nice":false,"zero":false},"axis":null},"y":{"field":"t","type":"quantitative","scale":{"domain":[-2.2289,11.5076],"reverse":true,"nice":false,"zero":false},"axis":null}}},
   {"data":{"name":"ED"},"transform":[{"filter":"datum.t < datum.s"}],"mark":{"type":"point","shape":"triangle-up","filled":true,"color":"#333","opacity":1,"size":34,"xOffset":3,"yOffset":8},"encoding":{"x":{"datum":27.24,"type":"quantitative","scale":{"domain":[0,49.906],"nice":false,"zero":false},"axis":null},"y":{"field":"t","type":"quantitative","scale":{"domain":[-2.2289,11.5076],"reverse":true,"nice":false,"zero":false},"axis":null}}},
   {"data":{"name":"LD"},"transform":[{"filter":"datum.node"}],"mark":{"type":"point","shape":"circle","filled":true,"color":"#000","opacity":1,"size":66},"encoding":{"x":{"datum":27.24,"type":"quantitative","scale":{"domain":[0,49.906],"nice":false,"zero":false},"axis":null},"y":{"field":"n","type":"quantitative","scale":{"domain":[-2.2289,11.5076],"reverse":true,"nice":false,"zero":false},"axis":null}}}
  ]},
  {"resolve":{"axis":{"x":"independent","y":"independent"}},
   "layer":[
   {"data":{"name":"HD"},"mark":{"type":"rect","color":"#000","width":{"band":1.1},"height":{"band":1.1}},"encoding":{
     "x":{"field":"c","type":"ordinal","scale":{"type":"band","range":[353,518.7],"paddingInner":0,"paddingOuter":0},"axis":{"orient":"top","offset":-46,"title":null,"grid":false,"zindex":1,"domainColor":"#999","ticks":false,"labels":false}},
     "y":{"field":"r","type":"ordinal","scale":{"type":"band","range":[46,290],"paddingInner":0,"paddingOuter":0},"axis":{"orient":"right","offset":-10.3,"title":null,"grid":false,"zindex":1,"domainColor":"#999","ticks":false,"labels":false}}}},
   {"data":{"name":"HD"},"mark":{"type":"rect","width":{"band":1.08},"height":{"band":1.04}},"encoding":{
     "x":{"field":"c","type":"ordinal","scale":{"type":"band","range":[353,518.7],"paddingInner":0,"paddingOuter":0},"axis":{"orient":"bottom","offset":-28,"title":null,"grid":false,"zindex":1,"domainColor":"#999","tickColor":"#999","tickSize":4,"labelExpr":"datum.value % 5 === 0 ? datum.label : ''","labelFont":"DejaVu Sans","labelFontSize":9.5,"labelColor":"#444","labelPadding":2,"labelAngle":0,"labelOverlap":false}},
     "y":{"field":"r","type":"ordinal","scale":{"type":"band","range":[46,290],"paddingInner":0,"paddingOuter":0},"axis":{"orient":"left","offset":-353,"title":null,"grid":false,"zindex":1,"domainColor":"#999","tickColor":"#999","tickSize":4,"labels":false}},
     "color":{"field":"v","type":"nominal","scale":{"domain":[0,1],"range":["#000000","#ffffff"]},"legend":null}}}
  ]}
 ]}
],"spacing":5,"bounds":"flush"}
]
}
